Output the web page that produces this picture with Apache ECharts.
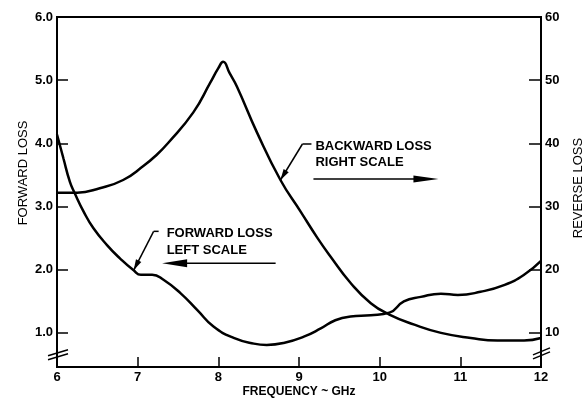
<!DOCTYPE html>
<html lang="en" style="height: 100%">
<head>
  <meta charset="utf-8">
</head>
<body style="height: 100%; margin: 0; background: #fff">
  <div id="container" style="width: 584px; height: 404px"></div>
  <script type="text/javascript" src="https://cdn.jsdelivr.net/npm/echarts@6/dist/echarts.min.js"></script>
  <script type="text/javascript">
    // forward loss, read on the left scale
    var fwdFreq = [6.0, 6.08, 6.16, 6.22, 6.33, 6.45, 6.62, 6.78, 6.95, 7.04, 7.18, 7.32, 7.53, 7.74, 7.94, 8.19, 8.44, 8.6, 8.81, 9.06, 9.27, 9.45, 9.64, 9.89, 10.12, 10.3, 10.51, 10.76, 10.97, 11.25, 11.55, 11.79, 12.0];
    var fwdLoss = [4.14, 3.76, 3.39, 3.21, 2.92, 2.66, 2.39, 2.18, 1.99, 1.92, 1.92, 1.84, 1.63, 1.36, 1.10, 0.92, 0.83, 0.81, 0.84, 0.94, 1.07, 1.20, 1.26, 1.28, 1.32, 1.50, 1.57, 1.62, 1.60, 1.65, 1.76, 1.92, 2.14];
    // backward loss, read on the right scale
    var bwdFreq = [6.0, 6.25, 6.53, 6.82, 7.07, 7.22, 7.38, 7.69, 7.9, 8.0, 8.06, 8.14, 8.23, 8.48, 8.77, 9.02, 9.23, 9.39, 9.64, 9.89, 10.12, 10.43, 10.76, 11.13, 11.46, 11.79, 12.0];
    var bwdLoss = [32.2, 32.2, 32.9, 34.2, 36.4, 38.0, 40.1, 44.9, 49.6, 51.9, 52.9, 51.1, 49.0, 41.7, 34.2, 29.2, 25.0, 22.1, 17.9, 14.7, 12.9, 11.3, 10.0, 9.2, 8.8, 8.8, 9.2];

    var leftTicks = [1, 2, 3, 4, 5, 6];
    var rightTicks = [10, 20, 30, 40, 50, 60];

    var font = '"Liberation Sans", Arial, sans-serif';

    function pairs(xs, ys) {
      return xs.map(function (x, i) { return [x, ys[i]]; });
    }

    var dom = document.getElementById('container');
    var myChart = echarts.init(dom, null, { renderer: 'canvas' });

    var tickLabel = { color: '#000', fontFamily: font, fontWeight: 'bold', fontSize: 13 };

    var option = {
      animation: false,
      backgroundColor: '#fff',
      grid: {
        left: 57, right: 43, top: 17, bottom: 37,
        outerBoundsMode: 'none', containLabel: false,
        show: true, borderColor: '#000', borderWidth: 2
      },
      xAxis: {
        type: 'value', min: 6, max: 12, interval: 1,
        name: 'FREQUENCY ~ GHz', nameLocation: 'middle', nameGap: 19, nameMoveOverlap: false,
        nameTextStyle: { color: '#000', fontFamily: font, fontWeight: 'bold', fontSize: 12 },
        axisLine: { lineStyle: { color: '#000', width: 2 } },
        axisTick: { inside: true, length: 10, lineStyle: { color: '#000', width: 1.5 } },
        axisLabel: Object.assign({ margin: 4 }, tickLabel),
        splitLine: { show: false }
      },
      yAxis: [
        {
          type: 'value', min: 0.46, max: 6, position: 'left',
          name: 'FORWARD LOSS', nameLocation: 'middle', nameGap: 27, nameRotate: 90, nameMoveOverlap: false,
          nameTextStyle: { color: '#000', fontFamily: font, fontSize: 13, padding: [0, 0, 0, 38] },
          axisLine: { lineStyle: { color: '#000', width: 2 } },
          axisTick: { inside: true, length: 11, customValues: leftTicks, lineStyle: { color: '#000', width: 1.5 } },
          axisLabel: Object.assign({
            margin: 4, customValues: leftTicks,
            formatter: function (v) { return v.toFixed(1); }
          }, tickLabel),
          splitLine: { show: false }
        },
        {
          type: 'value', min: 4.6, max: 60, position: 'right',
          name: 'REVERSE LOSS', nameLocation: 'middle', nameGap: 31, nameRotate: 90, nameMoveOverlap: false,
          nameTextStyle: { color: '#000', fontFamily: font, fontSize: 13, padding: [0, 0, 0, 8] },
          axisLine: { lineStyle: { color: '#000', width: 2 } },
          axisTick: { inside: true, length: 12, customValues: rightTicks, lineStyle: { color: '#000', width: 1.5 } },
          axisLabel: Object.assign({ margin: 4, customValues: rightTicks }, tickLabel),
          splitLine: { show: false }
        }
      ],
      series: [
        {
          name: 'Forward loss', type: 'line', yAxisIndex: 0,
          data: pairs(fwdFreq, fwdLoss),
          smooth: 0.5, showSymbol: false,
          lineStyle: { color: '#000', width: 2.5 }
        },
        {
          name: 'Backward loss', type: 'line', yAxisIndex: 1,
          data: pairs(bwdFreq, bwdLoss),
          smooth: 0.5, showSymbol: false,
          lineStyle: { color: '#000', width: 2.5 }
        }
      ]
    };
    myChart.setOption(option);

    // annotations, leader lines and axis break marks
    function px(xv, yv, axis) {
      return myChart.convertToPixel({ xAxisIndex: 0, yAxisIndex: axis }, [xv, yv]);
    }
    function head(tip, from, len, half) {
      var dx = tip[0] - from[0], dy = tip[1] - from[1];
      var d = Math.sqrt(dx * dx + dy * dy);
      var ux = dx / d, uy = dy / d;
      var bx = tip[0] - ux * len, by = tip[1] - uy * len;
      return {
        type: 'polygon',
        shape: { points: [tip, [bx - uy * half, by + ux * half], [bx + uy * half, by - ux * half]] },
        style: { fill: '#000' }
      };
    }
    function seg(a, b, w) {
      return {
        type: 'line',
        shape: { x1: a[0], y1: a[1], x2: b[0], y2: b[1] },
        style: { stroke: '#000', lineWidth: w || 1.5 }
      };
    }
    function label(x, y, s) {
      return {
        type: 'text', x: x, y: y,
        style: { text: s, fill: '#000', font: 'bold 13px ' + font, textVerticalAlign: 'middle' }
      };
    }

    var g = [];
    // forward loss callout
    var fTip = px(fwdFreq[8], fwdLoss[8], 0);
    var fElbow = [fTip[0] + 20, fTip[1] - 39];
    g.push(seg([fElbow[0] + 5, fElbow[1]], fElbow));
    g.push(seg(fElbow, fTip));
    g.push(head(fTip, fElbow, 11, 3));
    g.push(label(fElbow[0] + 13, fElbow[1] + 2, 'FORWARD LOSS'));
    g.push(label(fElbow[0] + 13, fElbow[1] + 19, 'LEFT SCALE'));
    var fy = fElbow[1] + 32;
    g.push(seg([fElbow[0] + 122, fy], [fElbow[0] + 20, fy]));
    g.push(head([fElbow[0] + 8.5, fy], [fElbow[0] + 40, fy], 25, 4));

    // backward loss callout
    var bTip = px(bwdFreq[14], bwdLoss[14], 1);
    var bElbow = [bTip[0] + 22, bTip[1] - 36];
    g.push(seg([bElbow[0] + 9, bElbow[1]], bElbow));
    g.push(seg(bElbow, bTip));
    g.push(head(bTip, bElbow, 11, 3));
    g.push(label(bElbow[0] + 13, bElbow[1] + 2, 'BACKWARD LOSS'));
    g.push(label(bElbow[0] + 13, bElbow[1] + 18, 'RIGHT SCALE'));
    var by2 = bElbow[1] + 35;
    g.push(seg([bElbow[0] + 11, by2], [bElbow[0] + 120, by2]));
    g.push(head([bElbow[0] + 136, by2], [bElbow[0] + 100, by2], 25, 3.5));

    // break marks on both vertical axes
    var lb = px(6, 0.7, 0), rb = px(12, 0.7, 0);
    [0, 4].forEach(function (o) {
      g.push(seg([lb[0] - 9, lb[1] + 4 + o], [lb[0] + 11, lb[1] - 2 + o], 1.5));
      g.push(seg([rb[0] - 8, rb[1] + 3 + o], [rb[0] + 9, rb[1] - 4 + o], 1.5));
    });

    myChart.setOption({ graphic: g });
  </script>
</body>
</html>
